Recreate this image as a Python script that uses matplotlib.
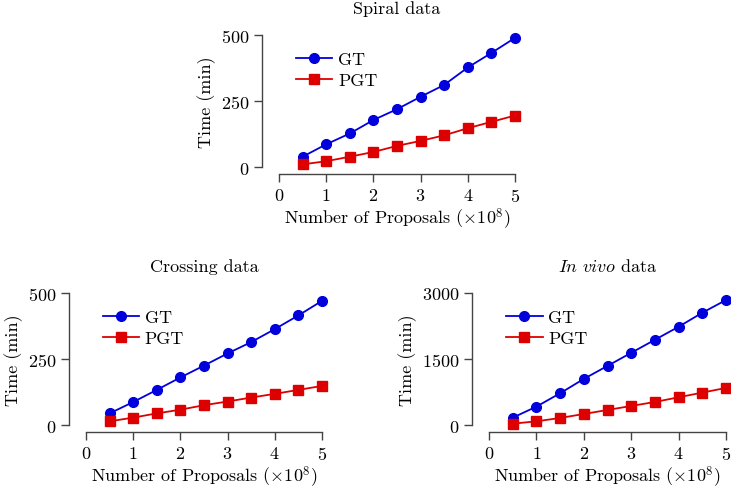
import matplotlib
matplotlib.use("Agg")
import matplotlib.pyplot as plt

plt.rcParams["font.family"] = "serif"
plt.rcParams["font.serif"] = ["cmr10", "DejaVu Serif"]
plt.rcParams["mathtext.fontset"] = "cm"
plt.rcParams["axes.formatter.use_mathtext"] = True
plt.rcParams["font.size"] = 13

# Du lieu doc tu hinh
proposals = [0.5, 1, 1.5, 2, 2.5, 3, 3.5, 4, 4.5, 5]

spiral_gt = [39, 86, 127, 178, 219, 266, 311, 377, 432, 489]
spiral_pgt = [10, 22, 39, 57, 80, 99, 120, 147, 171, 195]

crossing_gt = [44, 87, 133, 180, 225, 271, 314, 363, 415, 470]
crossing_pgt = [14, 28, 44, 58, 75, 89, 104, 118, 133, 148]

invivo_gt = [167, 418, 722, 1048, 1344, 1641, 1937, 2233, 2552, 2840]
invivo_pgt = [30, 84, 160, 251, 342, 433, 524, 630, 737, 843]

titles = ["Spiral data", "Crossing data", r"$\mathit{In\ vivo}$ data"]
yticks_list = [[0, 250, 500], [0, 250, 500], [0, 1500, 3000]]
xticks = [0, 1, 2, 3, 4, 5]

BLUE = "#0000dd"
RED = "#dd0000"

fig = plt.figure(figsize=(7.31, 4.89), dpi=100)
positions = [
    [0.3817, 0.6564, 0.3228, 0.27],
    [0.1176, 0.1288, 0.3228, 0.27],
    [0.669, 0.1288, 0.3242, 0.27],
]
series = [(spiral_gt, spiral_pgt), (crossing_gt, crossing_pgt), (invivo_gt, invivo_pgt)]

for pos, (gt, pgt), title, yt in zip(positions, series, titles, yticks_list):
    ax = fig.add_axes(pos)
    ax.plot(proposals, gt, "-o", color=BLUE, lw=1.3, ms=7, label="GT", clip_on=False, zorder=3)
    ax.plot(proposals, pgt, "-s", color=RED, lw=1.3, ms=6.5, label="PGT", clip_on=False, zorder=3)
    ax.set_xlim(0, 5)
    ax.set_ylim(yt[0], yt[-1])
    ax.set_xticks(xticks)
    ax.set_yticks(yt)
    ax.spines["top"].set_visible(False)
    ax.spines["right"].set_visible(False)
    ax.spines["left"].set_position(("outward", 12))
    ax.spines["bottom"].set_position(("outward", 5))
    for s in ["left", "bottom"]:
        ax.spines[s].set_color("#444444")
        ax.spines[s].set_linewidth(1.0)
    ax.tick_params(direction="out", length=6, width=1.0, color="#444444", labelsize=13)
    ax.tick_params(axis="y", pad=3)
    ax.set_title(title, fontsize=13, pad=16)
    ax.set_ylabel("Time (min)", fontsize=13)
    ax.set_xlabel(r"Number of Proposals ($\times10^8$)", fontsize=13, labelpad=1.5)
    ax.legend(loc="upper left", frameon=False, fontsize=13, handlelength=2.0,
              bbox_to_anchor=(0.02, 0.97), borderaxespad=0.3, handletextpad=0.3, labelspacing=0.3)

fig.savefig("out.png", dpi=100)
